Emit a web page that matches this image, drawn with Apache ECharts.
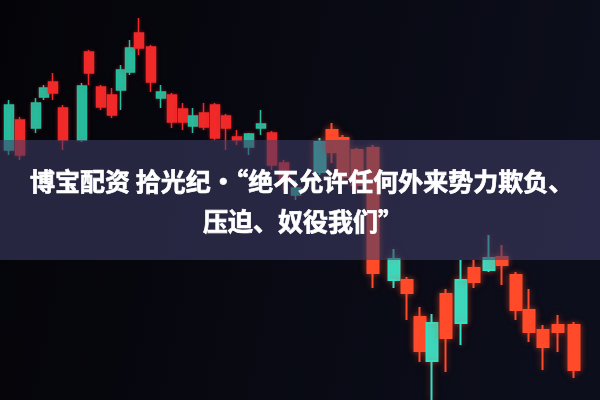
<!DOCTYPE html>
<html>
<head>
<meta charset="utf-8">
<script src="https://cdn.jsdelivr.net/npm/echarts@6/dist/echarts.min.js"></script>
<style>html,body{margin:0;padding:0;background:#07070f}#c{width:600px;height:400px}</style>
</head>
<body>
<div id="c"></div>
<script>
// time position of each candle (value axis 0-600)
var times = [9,20,36,44,53,63,82,89,101,112,121,130,139,151,161,172,183,193,204,215,226,237,249,261,272,284,296,
             320,332,343,357,373,394,407,420,432,446,461,474,489,502,516,529,543,558,574];
var opens  = [250,280,272,303,318,292,260,348,313,305,310,328,367,353,302,305,291,274,287,295,284,263,253,272,267,237,205,
              228,270,262,250,252,120,120,83,39,106,77,132,130,143,125,90,70,75,75];
var closes = [295,245,297,312,307,260,314,327,293,285,330,352,352,318,308,278,278,284,273,262,272,260,266,276,235,220,212,
              258,248,223,215,127,141,107,49,77,62,120,118,142,135,90,68,53,68,30];
var lows   = [245,240,267,300,300,250,258,315,290,282,290,325,345,308,292,272,270,267,270,260,250,255,245,265,230,210,200,
              225,237,220,210,112,112,80,38,0,28,55,112,128,115,80,58,30,48,22];
var highs  = [300,283,302,315,327,295,317,350,315,312,335,360,382,355,315,307,297,292,297,297,286,270,267,290,269,240,220,
              262,277,265,252,255,151,123,93,86,111,140,140,165,155,128,111,75,85,78];
var splitAt = 27; // first candle of the near (lower-right) group
var titleLine1 = '博宝配资 拾光纪·“绝不允许任何外来势力欺负、';
var titleLine2 = '压迫、奴役我们”';

function build(from, to) {
  var d = [];
  for (var i = from; i < to; i++) d.push([times[i], opens[i], closes[i], lows[i], highs[i]]);
  return d;
}

var textBase = {fill: '#ffffff', fontSize: 25, fontWeight: 'bold', fontFamily: 'Noto Sans CJK SC',
                textAlign: 'left', textVerticalAlign: 'middle', stroke: '#ffffff', lineWidth: 0.7};

var chart = echarts.init(document.getElementById('c'), null, {renderer: 'canvas'});
chart.setOption({
  animation: false,
  backgroundColor: {
    type: 'linear', x: 0, y: 0, x2: 1, y2: 0.3,
    colorStops: [{offset: 0, color: '#040408'}, {offset: 1, color: '#0c0e1b'}]
  },
  grid: {left: 0, right: 0, top: 0, bottom: 0},
  xAxis: {type: 'value', min: 0, max: 600, show: false, splitLine: {show: false}},
  yAxis: {type: 'value', min: 0, max: 400, show: false, splitLine: {show: false}},
  series: [
    {
      type: 'candlestick', barWidth: 10,
      encode: {x: 0, y: [1, 2, 3, 4]},
      itemStyle: {color: '#1fc2a2', color0: '#f02a2a', borderColor: '#1fc2a2', borderColor0: '#f02a2a', borderWidth: 1.5,
                  shadowBlur: 4, shadowColor: 'rgba(240,40,40,0.35)'},
      data: build(0, splitAt)
    },
    {
      type: 'candlestick', barWidth: 12,
      encode: {x: 0, y: [1, 2, 3, 4]},
      itemStyle: {color: '#2ee2c8', color0: '#ff4b2b', borderColor: '#2ee2c8', borderColor0: '#ff4b2b', borderWidth: 2,
                  shadowBlur: 6, shadowColor: 'rgba(255,80,40,0.5)'},
      data: build(splitAt, times.length)
    }
  ],
  graphic: [
    {type: 'rect', z: 50, shape: {x: 0, y: 140, width: 600, height: 120},
     style: {fill: 'rgba(64,62,104,0.58)'}},
    {type: 'text', z: 60, x: 30, y: 181, style: Object.assign({text: titleLine1}, textBase)},
    {type: 'text', z: 60, x: 203, y: 221, style: Object.assign({text: titleLine2}, textBase)}
  ]
});
</script>
</body>
</html>
